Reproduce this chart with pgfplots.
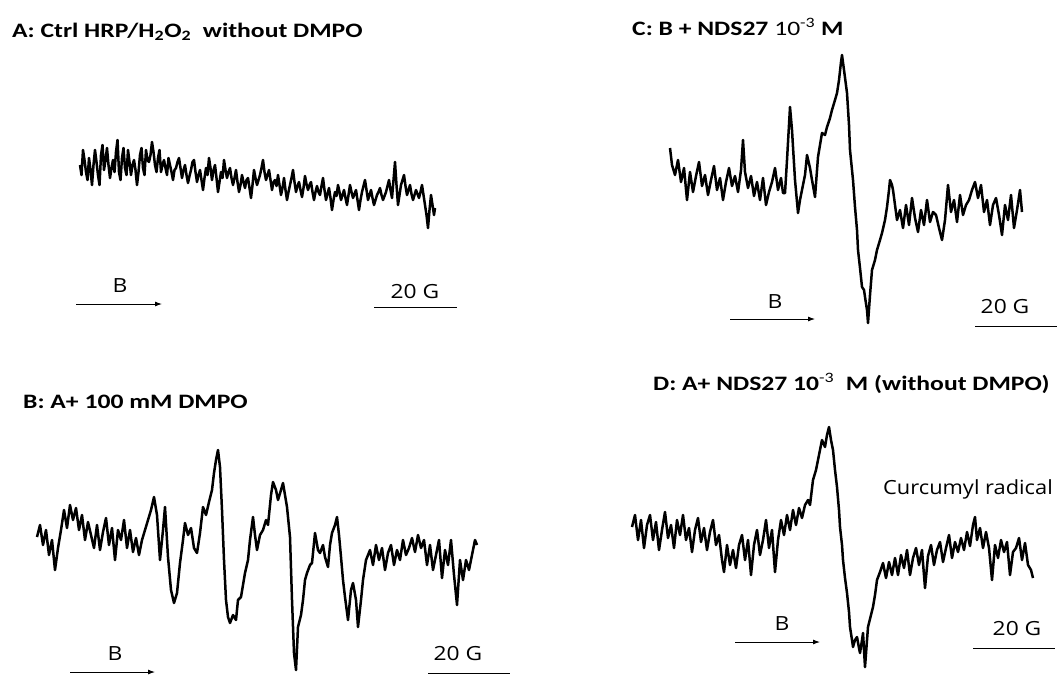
\documentclass[border=0pt]{standalone}
\usepackage{fontspec}
\setmainfont{Carlito}
\newfontfamily\labfont{Open Sans}
\usepackage{graphicx}
\usepackage{pgfplots}
\pgfplotsset{compat=1.18}
\usetikzlibrary{arrows.meta}

% panel headings and annotation text, set slightly wide
\newcommand{\ttl}[1]{\fontsize{20.5}{24}\selectfont\scalebox{1.25}[1]{#1}}
\newcommand{\lbl}[1]{\labfont\fontsize{19.5}{22}\selectfont\scalebox{1.17}[1]{#1}}
\newcommand{\note}[1]{\labfont\fontsize{19.5}{22}\selectfont\scalebox{1.12}[1]{#1}}

\tikzset{
  trace/.style={black, line width=2.5pt, line join=round},
  field/.style={black, line width=0.9pt, -{Latex[length=7pt,width=5pt]}},
  bar/.style={black, line width=0.9pt},
  title/.style={anchor=base west, inner sep=0pt},
  lab/.style={anchor=base, inner sep=0pt},
}

\begin{document}
\begin{tikzpicture}
\useasboundingbox (0,0) rectangle (1059pt,675pt);
\begin{axis}[
  at={(0,0)}, anchor=south west,
  scale only axis, width=1059pt, height=675pt,
  xmin=0, xmax=1059, ymin=0, ymax=675, y dir=reverse,
  hide axis, clip=false,
]

% ---------- A: control HRP/H2O2 without DMPO ----------
\addplot[trace, no markers] coordinates {
(80,165) (81.5,175) (83,150) (84.5,160) (86,172) (87.5,180) (89,158) (90.5,170) (92,185) (93.5,165)
(95,150) (96.5,162) (98,175) (99.5,185) (101,155) (102.5,145) (104,170) (105.5,160) (107,148) (108.5,165)
(110,178) (111.5,168) (113,160) (114.5,172) (116,152) (117.5,140) (119,172) (120.5,180) (122,158) (123.5,148)
(125,168) (126.5,175) (128,150) (129.5,162) (131,175) (132.5,165) (134,160) (135.5,170) (137,185) (138.5,172)
(140,155) (141.5,148) (143,168) (144.5,175) (146,150) (147.5,160) (149,162) (150.5,155) (152,142) (153.5,152)
(155,165) (156.5,172) (158,158) (159.5,150) (161,172) (162.5,165) (164,160) (165.5,168) (167,175) (168.5,158)
(170,165) (171.5,172) (173,180) (174.5,170) (176,168) (177.5,162) (179,158) (180.5,168) (182,178) (183.5,170)
(185,165) (186.5,175) (188,183) (189.5,176) (191,170) (192.5,162) (194,160) (195.5,172) (197,182) (198.5,175)
(200,170) (201.5,180) (203,190) (204.5,178) (206,168) (207.5,175) (209,158) (210.5,168) (212,180) (213.5,170)
(215,165) (216.5,178) (218,192) (219.5,182) (221,172) (222.5,178) (224,160) (225.5,170) (227,178) (228.5,172)
(230,168) (231.5,178) (233,185) (234.5,178) (236,170) (237.5,182) (239,192) (240.5,185) (242,175) (243.5,182)
(245,188) (246.5,180) (248,178) (249.5,188) (251,198) (252.5,185) (254,170) (255.5,178) (257,185) (258.5,180)
(260,175) (261.5,168) (263,160) (264.5,172) (266,180) (267.5,175) (269,170) (270.5,180) (272,190) (273.5,182)
(275,180) (276.5,186) (278,175) (279.5,185) (281,195) (282.5,188) (284,178) (285.5,190) (287,200) (288.5,192)
(290,185) (291.5,178) (293,170) (294.5,182) (296,192) (297.5,186) (299,182) (300.5,190) (302,197) (303.5,188)
(305,176) (306.5,184) (308,190) (309.5,185) (311,182) (312.5,192) (314,200) (315.5,192) (317,186) (318.5,192)
(320,195) (321.5,186) (323,178) (324.5,190) (326,200) (327.5,194) (329,188) (330.5,198) (332,210) (333.5,200)
(335,192) (336.5,196) (338,185) (339.5,192) (341,200) (342.5,195) (344,190) (345.5,198) (347,205) (348.5,195)
(350,185) (351.5,192) (353,198) (354.5,194) (356,190) (357.5,200) (359,210) (360.5,200) (362,192) (363.5,186)
(365,180) (366.5,190) (368,200) (369.5,195) (371,190) (372.5,198) (374,205) (375.5,200) (377,195) (378.5,192)
(380,188) (381.5,195) (383,200) (384.5,196) (386,192) (387.5,186) (389,180) (390.5,190) (392,198) (393.5,180)
(395,162) (396.5,185) (398,205) (399.5,195) (401,185) (402.5,180) (404,175) (405.5,186) (407,195) (408.5,190)
(410,185) (411.5,194) (413,200) (414.5,195) (416,190) (417.5,194) (419,198) (420.5,192) (422,185) (423.5,195)
(425,205) (426.5,215) (428,228) (429.5,210) (431,195) (432.5,205) (434,215) (435,208)
};
\addplot[field] coordinates {(76,304) (162,304)};
\node[lab] at (axis cs:120,292) {\lbl{B}};
\addplot[bar] coordinates {(374,307) (457,307)};
\node[lab] at (axis cs:415,298) {\lbl{20 G}};
\node[title] at (axis cs:12,37) {\ttl{\textbf{A: Ctrl HRP/H\textsubscript{2}O\textsubscript{2}\ \ without DMPO}}};

% ---------- B: A + 100 mM DMPO ----------
\addplot[trace, no markers] coordinates {
(37,537) (40,525) (43,545) (46,530) (49,555) (52,540) (55,570) (58,548) (61,530) (64,510)
(67,528) (70,505) (73,520) (76,508) (79,530) (82,515) (85,540) (88,522) (91,535) (94,548)
(97,525) (100,550) (103,532) (106,518) (109,545) (112,528) (115,560) (118,530) (121,540) (124,520)
(127,548) (130,530) (133,552) (136,538) (139,555) (142,540) (145,530) (148,520) (151,510) (154,497)
(157,515) (160,560) (163,530) (165,507) (168,557) (171,590) (174,603) (177,593) (180,563) (183,540)
(185,523) (188,535) (191,528) (194,548) (197,553) (200,533) (203,507) (206,515) (209,502) (212,490)
(214,473) (216,460) (218,450) (220,467) (222,510) (224,560) (226,600) (228,617) (230,623) (233,615)
(236,620) (238,600) (241,597) (243,585) (245,573) (248,560) (250,540) (253,517) (255,535) (257,550)
(260,535) (263,530) (266,520) (268,525) (271,495) (273,482) (276,490) (278,500) (281,490) (283,483)
(285,495) (287,507) (290,537) (292,600) (294,653) (296,670) (298,627) (301,615) (303,600) (305,580)
(307,573) (310,565) (312,563) (315,533) (318,550) (320,553) (323,545) (325,557) (328,567) (330,545)
(332,533) (335,525) (337,517) (339,535) (341,557) (343,580) (345,597) (348,620) (351,590) (353,583)
(356,600) (358,627) (361,600) (363,580) (366,560) (368,555) (370,550) (373,565) (376,545) (379,560)
(382,548) (385,570) (388,553) (391,545) (394,565) (397,550) (400,560) (403,540) (406,555) (409,548)
(412,538) (415,552) (418,535) (421,548) (424,540) (427,565) (430,545) (433,570) (436,555) (439,540)
(442,578) (445,550) (448,565) (451,540) (454,575) (457,605) (460,560) (463,580) (466,560) (469,570)
(472,555) (475,540) (477,545)
};
\addplot[field] coordinates {(70,672) (155,672)};
\node[lab] at (axis cs:115,660) {\lbl{B}};
\addplot[bar] coordinates {(428,673) (510,673)};
\node[lab] at (axis cs:458,660) {\lbl{20 G}};
\node[title] at (axis cs:23,408) {\ttl{\textbf{B: A+ 100 mM DMPO}}};

% ---------- C: B + NDS27 ----------
\addplot[trace, no markers] coordinates {
(670,148) (672,165) (675,175) (678,160) (681,182) (684,168) (687,200) (690,172) (693,192) (696,176)
(699,162) (702,186) (705,175) (708,195) (711,180) (714,166) (717,190) (720,178) (723,200) (726,182)
(729,168) (732,186) (735,176) (738,192) (741,170) (743,140) (745,172) (748,188) (751,176) (754,196)
(757,182) (760,200) (763,178) (766,205) (769,192) (772,182) (775,168) (778,190) (781,178) (783,193)
(785,193) (787,160) (790,107) (792,130) (793,147) (795,180) (798,213) (800,200) (802,190) (805,175)
(807,155) (810,168) (812,180) (815,197) (818,157) (820,145) (822,133) (825,135) (827,127) (830,118)
(832,110) (835,100) (837,93) (839,80) (841,62) (842,55) (844,70) (847,93) (849,125) (850,150)
(853,180) (855,207) (857,230) (858,250) (860,268) (862,287) (864,290) (865,297) (867,310) (868,323)
(870,295) (872,270) (875,260) (877,250) (880,240) (882,233) (885,220) (887,207) (889,190) (890,180)
(892,185) (893,190) (895,205) (897,220) (900,210) (903,228) (906,205) (909,225) (912,198) (915,218)
(918,232) (921,210) (924,225) (927,200) (930,222) (933,212) (936,215) (939,228) (942,240) (945,220)
(948,185) (951,212) (954,200) (957,222) (960,195) (963,215) (966,205) (969,200) (972,190) (975,182)
(978,198) (981,185) (984,212) (987,200) (990,225) (993,205) (996,198) (999,215) (1002,235) (1005,205)
(1008,220) (1011,195) (1014,228) (1017,210) (1020,190) (1022,212)
};
\addplot[field] coordinates {(730,319) (815,319)};
\node[lab] at (axis cs:775,308) {\lbl{B}};
\addplot[bar] coordinates {(975,326) (1057,326)};
\node[lab] at (axis cs:1005,313) {\lbl{20 G}};
\node[title] at (axis cs:632,35) {\ttl{\textbf{C: B + NDS27} 10\textsuperscript{-3} \textbf{M}}};

% ---------- D: A + NDS27 without DMPO ----------
\addplot[trace, no markers] coordinates {
(632,527) (635,515) (638,540) (641,520) (644,548) (647,525) (650,515) (653,540) (656,522) (659,550)
(662,530) (665,512) (668,538) (671,525) (674,548) (677,520) (680,535) (683,515) (686,540) (689,528)
(692,552) (695,530) (698,518) (701,542) (704,528) (707,550) (710,532) (713,520) (716,545) (719,535)
(722,560) (724,572) (727,545) (730,565) (733,550) (736,568) (739,545) (742,535) (745,560) (748,540)
(751,575) (754,545) (757,530) (760,555) (763,540) (766,520) (769,548) (772,530) (775,572) (778,540)
(781,520) (784,535) (787,515) (790,530) (793,510) (796,525) (799,508) (802,518) (805,505) (808,500)
(810,505) (813,480) (816,470) (818,460) (820,450) (822,440) (825,447) (827,435) (829,427) (831,440)
(833,450) (835,470) (837,487) (839,510) (840,527) (842,545) (843,560) (845,578) (847,593) (849,612)
(850,627) (852,640) (853,647) (855,640) (857,637) (859,648) (860,653) (862,640) (863,633) (864,650)
(865,667) (867,640) (868,627) (871,615) (873,607) (875,595) (877,580) (880,572) (883,563) (886,578)
(889,562) (892,575) (895,558) (898,575) (901,555) (904,568) (907,550) (910,575) (913,558) (916,548)
(919,565) (922,550) (925,588) (928,556) (931,545) (934,565) (937,550) (940,542) (943,562) (946,548)
(949,535) (952,558) (955,542) (958,552) (961,538) (964,550) (967,532) (970,546) (973,525) (975,517)
(977,540) (980,528) (983,548) (986,532) (989,548) (992,580) (995,545) (998,558) (1001,540) (1004,552)
(1007,542) (1010,575) (1013,552) (1016,548) (1019,538) (1022,560) (1025,543) (1028,565) (1031,570)
(1033,578)
};
\addplot[field] coordinates {(735,642) (820,642)};
\node[lab] at (axis cs:782,630) {\lbl{B}};
\addplot[bar] coordinates {(973,648) (1055,648)};
\node[lab] at (axis cs:1017,635) {\lbl{20 G}};
\node[lab, anchor=base west] at (axis cs:883,494) {\note{Curcumyl radical}};
\node[title] at (axis cs:653,390) {\ttl{\textbf{D: A+ NDS27 10}\textsuperscript{-3}\textbf{\ \ M (without DMPO)}}};

\end{axis}
\end{tikzpicture}
\end{document}
